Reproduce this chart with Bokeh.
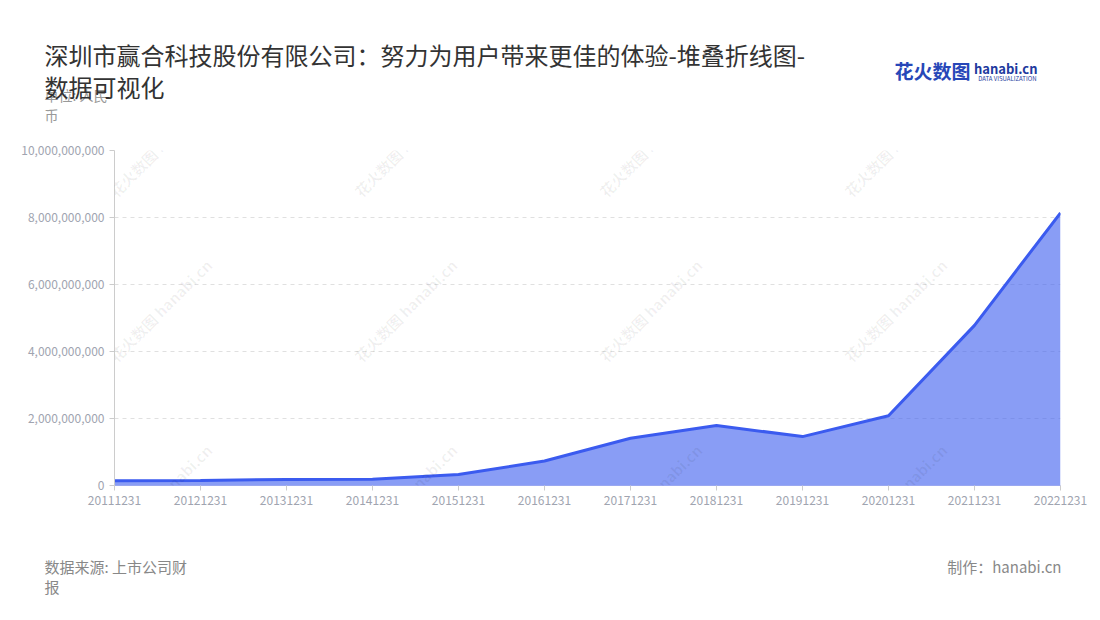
from bokeh.plotting import figure
from bokeh.models import Range1d, FixedTicker, NumeralTickFormatter, Label, Title
from bokeh.embed import file_html
from bokeh.resources import INLINE

dates = ["20111231", "20121231", "20131231", "20141231", "20151231", "20161231",
         "20171231", "20181231", "20191231", "20201231", "20211231", "20221231"]
values = [0.14e9, 0.15e9, 0.18e9, 0.19e9, 0.33e9, 0.73e9,
          1.41e9, 1.79e9, 1.46e9, 2.08e9, 4.78e9, 8.14e9]
y_ticks = [0, 2e9, 4e9, 6e9, 8e9, 10e9]

title_lines = ["深圳市赢合科技股份有限公司：努力为用户带来更佳的体验-堆叠折线图-", "数据可视化"]
unit_text = "单位: 人民\n币"
source_text = "数据来源: 上市公司财\n报"
credit = "制作：hanabi.cn"
logo = ["花火数图", "hanabi.cn", "DATA VISUALIZATION"]

FONT = "Noto Sans CJK SC"
W, H = 1100, 620
LEFT, BOTTOM = 114, 485  # frame origin on the page

xs = list(range(len(dates)))

p = figure(width=W, height=H, output_backend="svg", toolbar_location=None,
           x_range=Range1d(0, len(dates) - 1), y_range=Range1d(0, 10e9),
           min_border_left=LEFT, min_border_right=W - 1060, min_border_top=150,
           min_border_bottom=H - BOTTOM)
p.outline_line_color = None
p.title.visible = False

p.varea(x=xs, y1=0, y2=values, fill_color="#3b5bef", fill_alpha=0.6)
p.line(x=xs, y=values, line_color="#3b5bef", line_width=3)

p.xgrid.grid_line_color = None
p.ygrid.grid_line_color = "#e0e0e0"
p.ygrid.grid_line_dash = "4 4"
p.yaxis.ticker = FixedTicker(ticks=y_ticks)
p.yaxis.formatter = NumeralTickFormatter(format="0,0")
p.xaxis.ticker = FixedTicker(ticks=xs)
p.xaxis.major_label_overrides = {i: d for i, d in enumerate(dates)}
for ax in (p.xaxis, p.yaxis):
    ax.axis_line_color = "#cccccc"
    ax.major_tick_line_color = "#cccccc"
    ax.major_tick_out = 5
    ax.major_tick_in = 0
    ax.minor_tick_line_color = None
    ax.major_label_text_color = "#a0a4b0"
    ax.major_label_text_font = FONT
    ax.major_label_text_font_size = "12px"
p.xaxis.axis_line_color = "#9aa8f0"


def title(text, size, color, standoff, align="left", offset=-70, style="normal", lh=1.2):
    return Title(text=text, text_font=FONT, text_font_size=size, text_color=color,
                 align=align, offset=offset, standoff=standoff, vertical_align="top",
                 text_font_style=style, text_line_height=lh)


def spacer(standoff):
    return Title(text=" ", text_font_size="1px", standoff=standoff)


# header, listed top to bottom; the stack sits on the frame, so the last
# spacer lifts everything. Negative standoffs pull a text up over the panel before it
header = [
    title(title_lines[0], "24px", "#333333", -9.4),
    title(logo[1], "13px", "#1e3a9e", -20.1, align="right", offset=23, style="bold"),
    title(logo[0], "19px", "#2747b8", -26.9, align="right", offset=90, style="bold"),
    title(logo[2], "6px", "#1e3a9e", 2.7, align="right", offset=24),
    title(title_lines[1], "24px", "#333333", -34.2),
    title(unit_text, "14px", "#999999", -8.8, lh=0.99),
    spacer(25),
]
for t in reversed(header):
    p.add_layout(t, "above")

# footer, listed top to bottom under the x axis
footer = [
    spacer(50),
    title(credit, "15px", "#888888", -10, align="right", offset=-1),
    title(source_text, "15px", "#888888", -35.4, lh=0.96),
]
for t in footer:
    p.add_layout(t, "below")

# watermarks inside the plot area
for wx in (160, 405, 650, 895):
    for wy in (145, 310, 495):
        p.add_layout(Label(x=wx - LEFT, y=BOTTOM - wy, x_units="screen", y_units="screen",
                           text="花火数图 hanabi.cn", text_font=FONT, text_font_size="15px",
                           text_color="#000000", text_alpha=0.06, text_font_style="bold",
                           text_align="center", text_baseline="middle", angle=0.785))

open("out.html", "w").write(file_html(p, INLINE))
